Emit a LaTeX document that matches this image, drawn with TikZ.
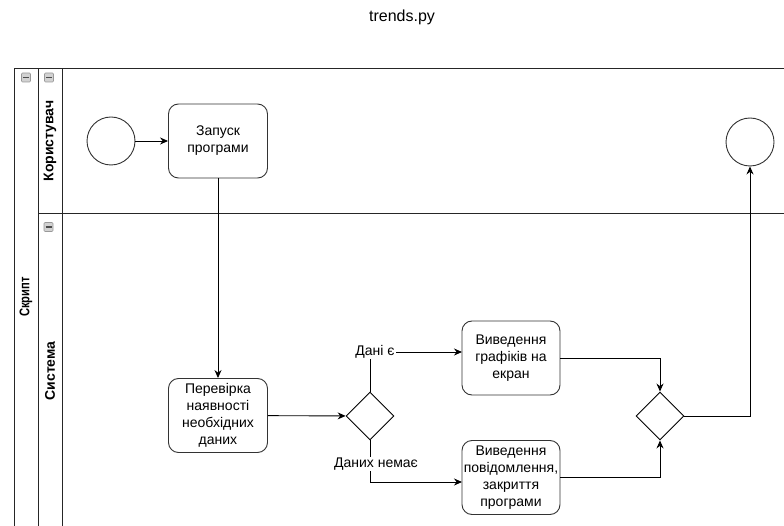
\documentclass[tikz,border=0pt]{standalone}
\usepackage{graphicx}
\usepackage{fontspec}
\setmainfont{Liberation Sans}
\usetikzlibrary{shapes.geometric,arrows.meta}

\begin{document}
\begin{tikzpicture}[x=1pt,y=-1pt,
  swim/.style={line width=1pt, draw=black!85},
  task/.style={draw=black!80, line width=0.9pt, rounded corners=10pt,
    minimum width=99pt, minimum height=74pt, inner sep=0pt, align=center,
    font=\fontsize{14}{17}\selectfont},
  event/.style={circle, draw=black!80, line width=0.9pt, minimum size=48pt, inner sep=0pt},
  gate/.style={diamond, draw=black, line width=0.9pt, minimum width=48pt,
    minimum height=48pt, inner sep=0pt},
  flow/.style={line width=0.9pt, -{Stealth[length=8pt,width=7pt]}},
  flowlabel/.style={fill=white, inner sep=1pt, font=\fontsize{14}{17}\selectfont},
  lanetitle/.style={rotate=90, inner sep=0pt, font=\bfseries\fontsize{14}{17}\selectfont},
  fold/.style={draw=gray!80, fill=gray!35, minimum size=9pt, inner sep=0pt,
    rounded corners=1pt, line width=0.6pt,
    path picture={\draw[black!70, line width=1.5pt]
      ([xshift=-3pt]path picture bounding box.center) --
      ([xshift=3pt]path picture bounding box.center);}}]

\useasboundingbox (0,0) rectangle (784,526);
\clip (0,0) rectangle (784,526);

% title
\node (title) at (402,17) {\fontsize{16}{19}\selectfont trends.py};

% pool and lanes
\draw[swim] (14,69) -- (784,69);
\draw[swim] (38,214) -- (784,214);
\draw[swim] (14,69) -- (14,526);
\draw[swim] (38,69) -- (38,526);
\draw[swim] (62,69) -- (62,526);

\node[fold] (foldpool) at (26,77.5) {};
\node[fold] (foldlane1) at (49,77.5) {};
\node[fold] (foldlane2) at (48.5,227) {};

\node[lanetitle] (pooltitle) at (26,297) {\scalebox{0.8}[1]{Скрипт}};
\node[lanetitle] (lane1title) at (50,141) {Користувач};
\node[lanetitle] (lane2title) at (50,371) {Система};

% flow elements
\node[event] (start) at (111,141) {};
\node[task] (launch) at (218,141) {Запуск\\програми};
\node[task] (check) at (218,415.5) {Перевірка\\наявності\\необхідних\\даних};
\node[gate] (d1) at (370,416) {};
\node[task, minimum width=98pt] (out1) at (511,358) {Виведення\\графіків на\\екран};
\node[task, minimum width=98pt] (out2) at (511,477.5) {Виведення\\повідомлення,\\закриття\\програми};
\node[gate] (d2) at (660,416) {};
\node[event] (end) at (750,142) {};

\coordinate (in1) at (462,352);
\coordinate (in2) at (462,482);

% connectors
\draw[flow] (start) -- (launch);
\draw[flow] (launch) -- (check);
\draw[flow] (check) -- (d1);
\draw[flow] (d1.north) |- (in1);
\draw[flow] (d1.south) |- (in2);
\draw[flow] (out1.east) -| (d2.north);
\draw[flow] (out2.east) -| (d2.south);
\draw[flow] (d2.east) -| (end.south);

\node[flowlabel] (yes) at (375,352) {Дані є};
\node[flowlabel] (no) at (376,464) {Даних немає};
\end{tikzpicture}
\end{document}
